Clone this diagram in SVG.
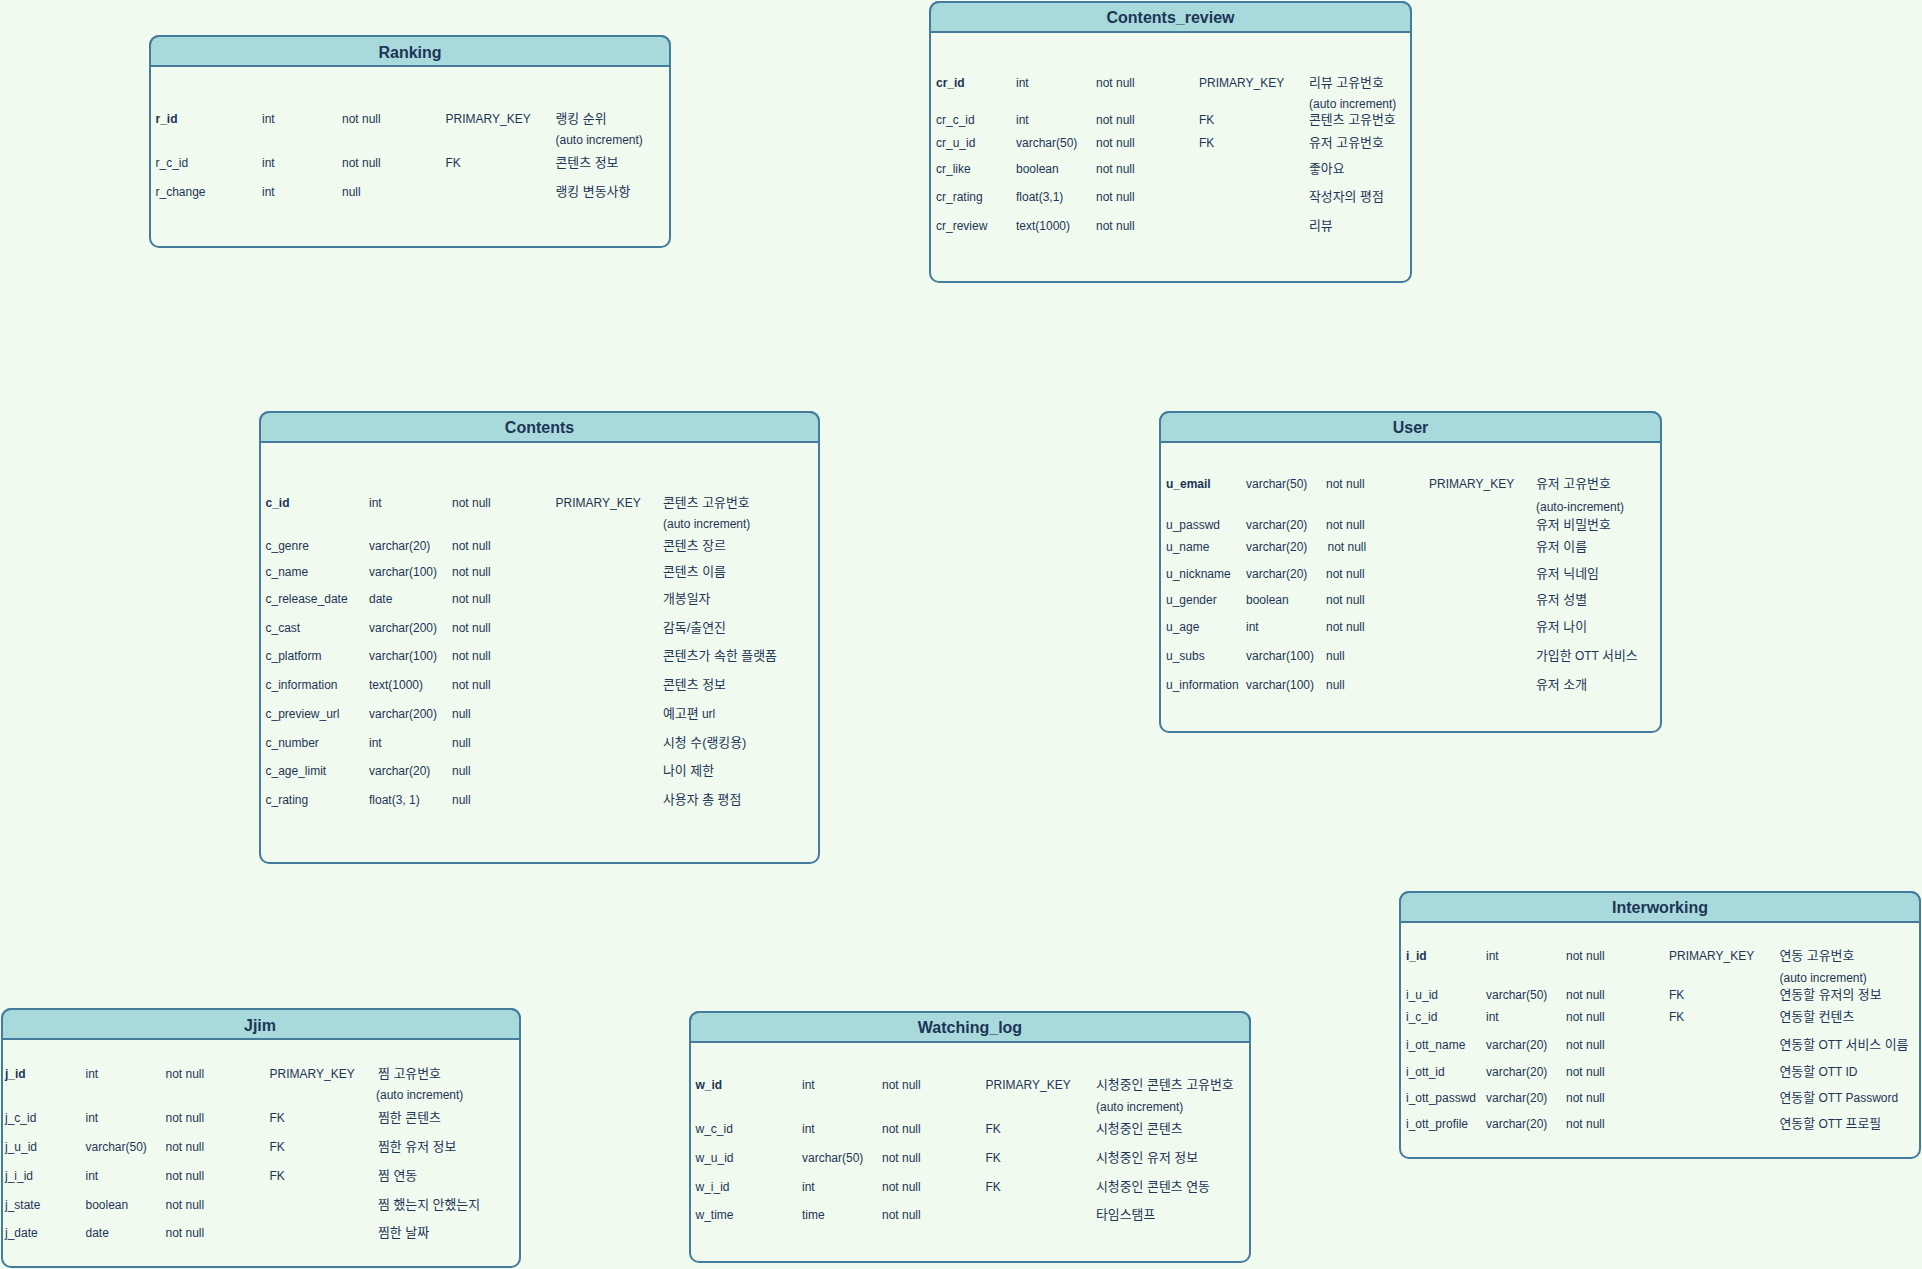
<svg xmlns="http://www.w3.org/2000/svg" width="1922" height="1269" viewBox="0 0 1922 1269">
<style>
.bg{fill:#F1FAEE}
.box{fill:none;stroke:#457B9D;stroke-width:2}
.hdr{fill:#A8DADC;stroke:#457B9D;stroke-width:2}
.t{font-family:"Liberation Sans","Noto Sans CJK KR",sans-serif;font-size:16px;font-weight:bold;fill:#1D3557;text-anchor:middle}
text.c{font-family:"Liberation Sans","Noto Sans CJK KR",sans-serif;font-size:12px;fill:#1D3557}
text.b{font-weight:bold}
text.k{font-size:12.9px}
tspan.l{font-size:12px}
</style>
<rect class="bg" x="0" y="0" width="1922" height="1269"/>
<g id="connectors"/>

<g id="Ranking">
<rect class="bg" x="150" y="36" width="520" height="211" rx="9"/>
<path class="hdr" d="M150,66 V45 A9,9 0 0 1 159,36 H661 A9,9 0 0 1 670,45 V66 Z"/>
<rect class="box" x="150" y="36" width="520" height="211" rx="9"/>
<text class="t" x="410" y="58">Ranking</text>
<text class="c b" x="155.5" y="123">r_id</text><text class="c" x="262" y="123">int</text><text class="c" x="342" y="123">not null</text><text class="c" x="445.5" y="123">PRIMARY_KEY</text><text class="c k" x="555.5" y="123">랭킹 순위</text>
<text class="c" x="555.5" y="144">(auto increment)</text>
<text class="c" x="155.5" y="167">r_c_id</text><text class="c" x="262" y="167">int</text><text class="c" x="342" y="167">not null</text><text class="c" x="445.5" y="167">FK</text><text class="c k" x="555.5" y="167">콘텐츠 정보</text>
<text class="c" x="155.5" y="196">r_change</text><text class="c" x="262" y="196">int</text><text class="c" x="342" y="196">null</text><text class="c k" x="555.5" y="196">랭킹 변동사항</text>
</g>

<g id="Contents_review">
<rect class="bg" x="930" y="2" width="481" height="280" rx="9"/>
<path class="hdr" d="M930,32 V11 A9,9 0 0 1 939,2 H1402 A9,9 0 0 1 1411,11 V32 Z"/>
<rect class="box" x="930" y="2" width="481" height="280" rx="9"/>
<text class="t" x="1170.5" y="23">Contents_review</text>
<text class="c b" x="936" y="87">cr_id</text><text class="c" x="1016" y="87">int</text><text class="c" x="1096" y="87">not null</text><text class="c" x="1199" y="87">PRIMARY_KEY</text><text class="c k" x="1309" y="87">리뷰 고유번호</text>
<text class="c" x="1309" y="108">(auto increment)</text>
<text class="c" x="936" y="124">cr_c_id</text><text class="c" x="1016" y="124">int</text><text class="c" x="1096" y="124">not null</text><text class="c" x="1199" y="124">FK</text><text class="c k" x="1309" y="124">콘텐츠 고유번호</text>
<text class="c" x="936" y="147">cr_u_id</text><text class="c" x="1016" y="147">varchar(50)</text><text class="c" x="1096" y="147">not null</text><text class="c" x="1199" y="147">FK</text><text class="c k" x="1309" y="147">유저 고유번호</text>
<text class="c" x="936" y="173">cr_like</text><text class="c" x="1016" y="173">boolean</text><text class="c" x="1096" y="173">not null</text><text class="c k" x="1309" y="173">좋아요</text>
<text class="c" x="936" y="201">cr_rating</text><text class="c" x="1016" y="201">float(3,1)</text><text class="c" x="1096" y="201">not null</text><text class="c k" x="1309" y="201">작성자의 평점</text>
<text class="c" x="936" y="230">cr_review</text><text class="c" x="1016" y="230">text(1000)</text><text class="c" x="1096" y="230">not null</text><text class="c k" x="1309" y="230">리뷰</text>
</g>

<g id="Contents">
<rect class="bg" x="260" y="412" width="559" height="451" rx="9"/>
<path class="hdr" d="M260,442 V421 A9,9 0 0 1 269,412 H810 A9,9 0 0 1 819,421 V442 Z"/>
<rect class="box" x="260" y="412" width="559" height="451" rx="9"/>
<text class="t" x="539.5" y="433">Contents</text>
<text class="c b" x="265.5" y="507">c_id</text><text class="c" x="369" y="507">int</text><text class="c" x="452" y="507">not null</text><text class="c" x="555.5" y="507">PRIMARY_KEY</text><text class="c k" x="663" y="507">콘텐츠 고유번호</text>
<text class="c" x="663" y="528">(auto increment)</text>
<text class="c" x="265.5" y="550">c_genre</text><text class="c" x="369" y="550">varchar(20)</text><text class="c" x="452" y="550">not null</text><text class="c k" x="663" y="550">콘텐츠 장르</text>
<text class="c" x="265.5" y="576">c_name</text><text class="c" x="369" y="576">varchar(100)</text><text class="c" x="452" y="576">not null</text><text class="c k" x="663" y="576">콘텐츠 이름</text>
<text class="c" x="265.5" y="603">c_release_date</text><text class="c" x="369" y="603">date</text><text class="c" x="452" y="603">not null</text><text class="c k" x="663" y="603">개봉일자</text>
<text class="c" x="265.5" y="632">c_cast</text><text class="c" x="369" y="632">varchar(200)</text><text class="c" x="452" y="632">not null</text><text class="c k" x="663" y="632">감독/출연진</text>
<text class="c" x="265.5" y="660">c_platform</text><text class="c" x="369" y="660">varchar(100)</text><text class="c" x="452" y="660">not null</text><text class="c k" x="663" y="660">콘텐츠가 속한 플랫폼</text>
<text class="c" x="265.5" y="689">c_information</text><text class="c" x="369" y="689">text(1000)</text><text class="c" x="452" y="689">not null</text><text class="c k" x="663" y="689">콘텐츠 정보</text>
<text class="c" x="265.5" y="718">c_preview_url</text><text class="c" x="369" y="718">varchar(200)</text><text class="c" x="452" y="718">null</text><text class="c k" x="663" y="718">예고편<tspan class="l"> url</tspan></text>
<text class="c" x="265.5" y="747">c_number</text><text class="c" x="369" y="747">int</text><text class="c" x="452" y="747">null</text><text class="c k" x="663" y="747">시청 수(랭킹용)</text>
<text class="c" x="265.5" y="775">c_age_limit</text><text class="c" x="369" y="775">varchar(20)</text><text class="c" x="452" y="775">null</text><text class="c k" x="663" y="775">나이 제한</text>
<text class="c" x="265.5" y="804">c_rating</text><text class="c" x="369" y="804">float(3, 1)</text><text class="c" x="452" y="804">null</text><text class="c k" x="663" y="804">사용자 총 평점</text>
</g>

<g id="User">
<rect class="bg" x="1160" y="412" width="501" height="320" rx="9"/>
<path class="hdr" d="M1160,442 V421 A9,9 0 0 1 1169,412 H1652 A9,9 0 0 1 1661,421 V442 Z"/>
<rect class="box" x="1160" y="412" width="501" height="320" rx="9"/>
<text class="t" x="1410.5" y="433">User</text>
<text class="c b" x="1166" y="488">u_email</text><text class="c" x="1246" y="488">varchar(50)</text><text class="c" x="1326" y="488">not null</text><text class="c" x="1429" y="488">PRIMARY_KEY</text><text class="c k" x="1536" y="488">유저 고유번호</text>
<text class="c" x="1536" y="511">(auto-increment)</text>
<text class="c" x="1166" y="529">u_passwd</text><text class="c" x="1246" y="529">varchar(20)</text><text class="c" x="1326" y="529">not null</text><text class="c k" x="1536" y="529">유저 비밀번호</text>
<text class="c" x="1166" y="551">u_name</text><text class="c" x="1246" y="551">varchar(20)</text><text class="c" x="1327.5" y="551">not null</text><text class="c k" x="1536" y="551">유저 이름</text>
<text class="c" x="1166" y="578">u_nickname</text><text class="c" x="1246" y="578">varchar(20)</text><text class="c" x="1326" y="578">not null</text><text class="c k" x="1536" y="578">유저 닉네임</text>
<text class="c" x="1166" y="604">u_gender</text><text class="c" x="1246" y="604">boolean</text><text class="c" x="1326" y="604">not null</text><text class="c k" x="1536" y="604">유저 성별</text>
<text class="c" x="1166" y="631">u_age</text><text class="c" x="1246" y="631">int</text><text class="c" x="1326" y="631">not null</text><text class="c k" x="1536" y="631">유저 나이</text>
<text class="c" x="1166" y="660">u_subs</text><text class="c" x="1246" y="660">varchar(100)</text><text class="c" x="1326" y="660">null</text><text class="c k" x="1536" y="660">가입한<tspan class="l"> OTT </tspan>서비스</text>
<text class="c" x="1166" y="689">u_information</text><text class="c" x="1246" y="689">varchar(100)</text><text class="c" x="1326" y="689">null</text><text class="c k" x="1536" y="689">유저 소개</text>
</g>

<g id="Interworking">
<rect class="bg" x="1400" y="892" width="520" height="266" rx="9"/>
<path class="hdr" d="M1400,922 V901 A9,9 0 0 1 1409,892 H1911 A9,9 0 0 1 1920,901 V922 Z"/>
<rect class="box" x="1400" y="892" width="520" height="266" rx="9"/>
<text class="t" x="1660" y="913">Interworking</text>
<text class="c b" x="1406" y="960">i_id</text><text class="c" x="1486" y="960">int</text><text class="c" x="1566" y="960">not null</text><text class="c" x="1669" y="960">PRIMARY_KEY</text><text class="c k" x="1779.5" y="960">연동 고유번호</text>
<text class="c" x="1779.5" y="982">(auto increment)</text>
<text class="c" x="1406" y="999">i_u_id</text><text class="c" x="1486" y="999">varchar(50)</text><text class="c" x="1566" y="999">not null</text><text class="c" x="1669" y="999">FK</text><text class="c k" x="1779.5" y="999">연동할 유저의 정보</text>
<text class="c" x="1406" y="1021">i_c_id</text><text class="c" x="1486" y="1021">int</text><text class="c" x="1566" y="1021">not null</text><text class="c" x="1669" y="1021">FK</text><text class="c k" x="1779.5" y="1021">연동할 컨텐츠</text>
<text class="c" x="1406" y="1049">i_ott_name</text><text class="c" x="1486" y="1049">varchar(20)</text><text class="c" x="1566" y="1049">not null</text><text class="c k" x="1779.5" y="1049">연동할<tspan class="l"> OTT </tspan>서비스 이름</text>
<text class="c" x="1406" y="1076">i_ott_id</text><text class="c" x="1486" y="1076">varchar(20)</text><text class="c" x="1566" y="1076">not null</text><text class="c k" x="1779.5" y="1076">연동할<tspan class="l"> OTT ID</tspan></text>
<text class="c" x="1406" y="1102">i_ott_passwd</text><text class="c" x="1486" y="1102">varchar(20)</text><text class="c" x="1566" y="1102">not null</text><text class="c k" x="1779.5" y="1102">연동할<tspan class="l"> OTT Password</tspan></text>
<text class="c" x="1406" y="1128">i_ott_profile</text><text class="c" x="1486" y="1128">varchar(20)</text><text class="c" x="1566" y="1128">not null</text><text class="c k" x="1779.5" y="1128">연동할<tspan class="l"> OTT </tspan>프로필</text>
</g>

<g id="Jjim">
<rect class="bg" x="2" y="1009" width="518" height="258" rx="9"/>
<path class="hdr" d="M2,1039 V1018 A9,9 0 0 1 11,1009 H511 A9,9 0 0 1 520,1018 V1039 Z"/>
<rect class="box" x="2" y="1009" width="518" height="258" rx="9"/>
<text class="t" x="260" y="1030.5">Jjim</text>
<text class="c b" x="5" y="1078">j_id</text><text class="c" x="85.5" y="1078">int</text><text class="c" x="165.5" y="1078">not null</text><text class="c" x="269.5" y="1078">PRIMARY_KEY</text><text class="c k" x="378" y="1078">찜 고유번호</text>
<text class="c" x="376" y="1099">(auto increment)</text>
<text class="c" x="5" y="1122">j_c_id</text><text class="c" x="85.5" y="1122">int</text><text class="c" x="165.5" y="1122">not null</text><text class="c" x="269.5" y="1122">FK</text><text class="c k" x="378" y="1122">찜한 콘텐츠</text>
<text class="c" x="5" y="1151">j_u_id</text><text class="c" x="85.5" y="1151">varchar(50)</text><text class="c" x="165.5" y="1151">not null</text><text class="c" x="269.5" y="1151">FK</text><text class="c k" x="378" y="1151">찜한 유저 정보</text>
<text class="c" x="5" y="1180">j_i_id</text><text class="c" x="85.5" y="1180">int</text><text class="c" x="165.5" y="1180">not null</text><text class="c" x="269.5" y="1180">FK</text><text class="c k" x="378" y="1180">찜 연동</text>
<text class="c" x="5" y="1209">j_state</text><text class="c" x="85.5" y="1209">boolean</text><text class="c" x="165.5" y="1209">not null</text><text class="c k" x="378" y="1209">찜 했는지 안했는지</text>
<text class="c" x="5" y="1237">j_date</text><text class="c" x="85.5" y="1237">date</text><text class="c" x="165.5" y="1237">not null</text><text class="c k" x="378" y="1237">찜한 날짜</text>
</g>

<g id="Watching_log">
<rect class="bg" x="690" y="1012" width="560" height="250" rx="9"/>
<path class="hdr" d="M690,1042 V1021 A9,9 0 0 1 699,1012 H1241 A9,9 0 0 1 1250,1021 V1042 Z"/>
<rect class="box" x="690" y="1012" width="560" height="250" rx="9"/>
<text class="t" x="970" y="1033">Watching_log</text>
<text class="c b" x="695.5" y="1089">w_id</text><text class="c" x="802" y="1089">int</text><text class="c" x="882" y="1089">not null</text><text class="c" x="985.5" y="1089">PRIMARY_KEY</text><text class="c k" x="1096" y="1089">시청중인 콘텐츠 고유번호</text>
<text class="c" x="1096" y="1111">(auto increment)</text>
<text class="c" x="695.5" y="1133">w_c_id</text><text class="c" x="802" y="1133">int</text><text class="c" x="882" y="1133">not null</text><text class="c" x="985.5" y="1133">FK</text><text class="c k" x="1096" y="1133">시청중인 콘텐츠</text>
<text class="c" x="695.5" y="1162">w_u_id</text><text class="c" x="802" y="1162">varchar(50)</text><text class="c" x="882" y="1162">not null</text><text class="c" x="985.5" y="1162">FK</text><text class="c k" x="1096" y="1162">시청중인 유저 정보</text>
<text class="c" x="695.5" y="1191">w_i_id</text><text class="c" x="802" y="1191">int</text><text class="c" x="882" y="1191">not null</text><text class="c" x="985.5" y="1191">FK</text><text class="c k" x="1096" y="1191">시청중인 콘텐츠 연동</text>
<text class="c" x="695.5" y="1219">w_time</text><text class="c" x="802" y="1219">time</text><text class="c" x="882" y="1219">not null</text><text class="c k" x="1096" y="1219">타임스탬프</text>
</g>
</svg>
